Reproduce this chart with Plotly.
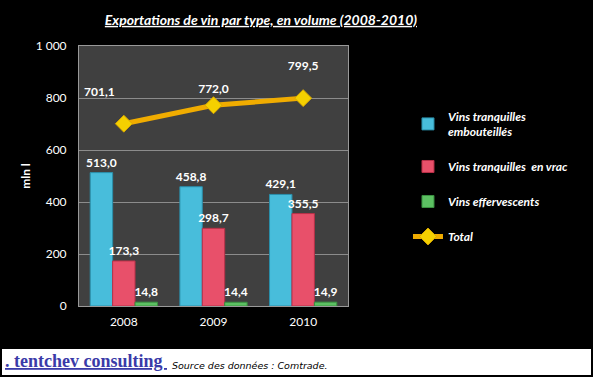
import plotly.graph_objects as go

years = ["2008", "2009", "2010"]
bottled = [513.0, 458.8, 429.1]
bulk = [173.3, 298.7, 355.5]
sparkling = [14.8, 14.4, 14.9]
total = [701.1, 772.0, 799.5]
names = ["Vins tranquilles<br>embouteillés", "Vins tranquilles  en vrac", "Vins effervescents", "Total"]
yticks = [0, 200, 400, 600, 800, 1000]
yticklabels = ["0", "200", "400", "600", "800", "1 000"]

def fmt(v):
    return f"{v:.1f}".replace(".", ",")

FONT = "Lato"

fig = go.Figure()
for vals, name, col, lc, grp in [
    (bottled, names[0], "#48bddb", "#2a8fab", "a"),
    (bulk, names[1], "#e8506a", "#b83048", "b"),
    (sparkling, names[2], "#5cc062", "#3a9040", "c"),
]:
    fig.add_trace(go.Bar(
        x=years, y=vals, name=name, legendgroup=grp,
        marker=dict(color=col, line=dict(color=lc, width=1)),
        text=[f"<b>{fmt(v)}</b>" for v in vals], textposition="outside",
        constraintext="none",
        textfont=dict(family=FONT, size=12, color="white"),
        cliponaxis=False,
    ))

total_text = [f"<b>{fmt(total[0])}</b><br> ", f"<b>{fmt(total[1])}</b>", f"<b>{fmt(total[2])}</b><br> "]
fig.add_trace(go.Scatter(
    x=years, y=total, name=names[3], legendgroup="d",
    mode="lines+markers+text",
    line=dict(color="#f0ac00", width=5),
    marker=dict(symbol="diamond", size=13, color="#f5d000", line=dict(color="#d9a800", width=1)),
    text=total_text, textposition=["top left", "top center", "top center"],
    textfont=dict(family=FONT, size=12, color="white"),
    cliponaxis=False,
))

# plot area px: x 79..348, y 46..306
W, H = 269.0, 260.0
def px(x):
    return (x - 79) / W
def py(y):
    return (306 - y) / H

anns = [
    dict(xref="paper", yref="paper", x=px(3), y=py(361), xanchor="left", yanchor="middle",
         text="<b><u>. tentchev consulting </u></b>", showarrow=False,
         font=dict(family="Liberation Serif", size=18, color="#3a3aa8")),
    dict(xref="paper", yref="paper", x=px(170), y=py(365), xanchor="left", yanchor="middle",
         text="<i>Source des données : Comtrade.</i>", showarrow=False,
         font=dict(family="DejaVu Sans", size=9.5, color="black")),
]

fig.update_layout(
    width=593, height=377,
    margin=dict(l=79, r=245, t=46, b=71),
    paper_bgcolor="black", plot_bgcolor="#404040",
    barmode="group", bargap=0.25, bargroupgap=0,
    showlegend=True,
    title=dict(text="<b><i><u>Exportations de vin par type, en volume (2008-2010)</u></i></b>",
               xref="container", x=0.44, xanchor="center", y=0.947, yanchor="middle",
               font=dict(family=FONT, size=14, color="white")),
    legend=dict(xref="container", yref="container", x=0.688, y=0.73, xanchor="left", yanchor="top",
                font=dict(family=FONT, size=12, color="white", style="italic", weight="bold"),
                bgcolor="rgba(0,0,0,0)", tracegroupgap=16, itemwidth=30),
    xaxis=dict(type="category", tickfont=dict(family=FONT, size=12, color="white"),
               showline=True, linecolor="#999999", mirror=True,
               ticks="outside", ticklen=5, tickcolor="rgba(0,0,0,0)"),
    yaxis=dict(range=[0, 1000], tickvals=yticks, ticktext=yticklabels,
               tickfont=dict(family=FONT, size=12, color="white"),
               gridcolor="#8c8c8c", gridwidth=1, zeroline=False,
               showline=True, linecolor="#999999", mirror=True,
               ticks="outside", ticklen=9, tickcolor="rgba(0,0,0,0)",
               title=dict(text="<b>mln l</b>", font=dict(family=FONT, size=12, color="white"), standoff=2)),
    shapes=[dict(type="rect", xref="paper", yref="paper",
                 x0=px(2), x1=px(591), y0=py(349), y1=py(375),
                 fillcolor="white", line=dict(width=0), layer="above")],
    annotations=anns,
)

fig.write_html("out.html", config={"displayModeBar": False},
               post_script="document.body.style.margin='0';")
